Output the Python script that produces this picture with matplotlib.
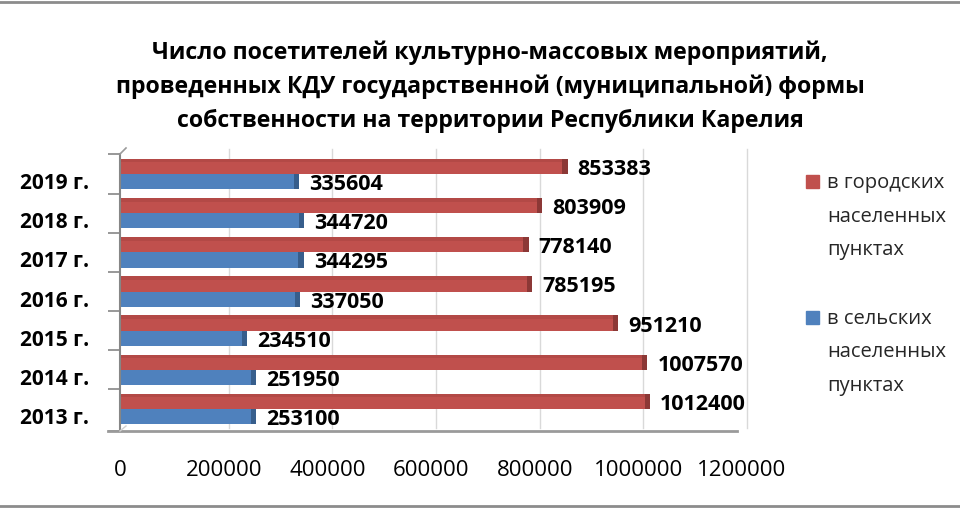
import matplotlib
matplotlib.use("Agg")
import matplotlib.pyplot as plt
import matplotlib.transforms as mtransforms
from matplotlib.patches import Rectangle
from matplotlib.lines import Line2D

plt.rcParams['font.family'] = ['Open Sans', 'DejaVu Sans']

years = ["2013 г.", "2014 г.", "2015 г.", "2016 г.", "2017 г.", "2018 г.", "2019 г."]
urban = [1012400, 1007570, 951210, 785195, 778140, 803909, 853383]
rural = [253100, 251950, 234510, 337050, 344295, 344720, 335604]
xticks = [0, 200000, 400000, 600000, 800000, 1000000, 1200000]
title_lines = ["Число посетителей культурно-массовых мероприятий,",
               "проведенных КДУ государственной (муниципальной) формы",
               "собственности на территории Республики Карелия"]
legend_labels = [["в городских", "населенных", "пунктах"],
                 ["в сельских", "населенных", "пунктах"]]

RED, RED_D = "#C0504D", "#8C3836"
BLUE, BLUE_D = "#4F81BD", "#375E8C"

W, H = 960, 510
fig = plt.figure(figsize=(W / 100, H / 100), dpi=100)

def fx(px): return px / W
def fy(py): return 1 - py / H

left, right, top, bottom = 120, 742, 155, 432
ax = fig.add_axes([fx(left), fy(bottom), fx(right) - fx(left), fy(top) - fy(bottom)])
ax.set_xlim(0, 1200000)
ax.set_ylim(-0.56, 6.51)
for s in ax.spines.values():
    s.set_visible(False)

# back wall gridlines (shifted for 3D look)
shift = mtransforms.ScaledTranslation(5 / 100, 3 / 100, fig.dpi_scale_trans)
for xv in xticks[1:]:
    ax.plot([xv, xv], [-0.56, 6.55], color="#D9D9D9", lw=1,
            transform=ax.transData + shift, zorder=0, clip_on=False)

pos = list(range(len(years)))
h = 0.39
ypos_u = [p + h / 2 for p in pos]
ypos_r = [p - h / 2 for p in pos]
ax.barh(ypos_u, urban, height=h, color=RED, zorder=3)
ax.barh(ypos_r, rural, height=h, color=BLUE, zorder=3)
# 3D top band and end caps
cap = 10000
ax.barh([y + h * 0.38 for y in ypos_u], urban, height=h * 0.24, color="#A94442", alpha=0.55, zorder=4)
ax.barh(ypos_u, [cap] * len(urban), left=urban, height=h, color=RED_D, zorder=4)
ax.barh(ypos_r, [cap] * len(rural), left=rural, height=h, color=BLUE_D, zorder=4)

off = mtransforms.ScaledTranslation(10 / 100, -2 / 100, fig.dpi_scale_trans)
for y, v in zip(ypos_u, urban):
    ax.text(v + cap, y, str(v), ha="left", va="center", fontsize=15.5, fontweight="bold",
            color="black", transform=ax.transData + off, zorder=5)
for y, v in zip(ypos_r, rural):
    ax.text(v + cap, y, str(v), ha="left", va="center", fontsize=15.5, fontweight="bold",
            color="black", transform=ax.transData + off, zorder=5)

ax.set_yticks(pos)
ax.set_yticklabels(years, fontsize=15, fontweight="bold")
ax.set_yticks([p + 0.5 for p in pos[:-1]] + [6.5, -0.56], minor=True)
ax.tick_params(axis="y", which="major", length=0, pad=22.5)
ax.tick_params(axis="y", which="minor", length=9, color="#868686", width=1.2)
loff = mtransforms.ScaledTranslation(0, -6 / 100, fig.dpi_scale_trans)
for lab in ax.get_yticklabels():
    lab.set_transform(lab.get_transform() + loff)

ax.set_xticks(xticks)
ax.set_xticklabels([str(x) for x in xticks], fontsize=16)
ax.tick_params(axis="x", length=0, pad=20)

# axis lines
ax.plot([0, 0], [-0.56, 6.51], color="#868686", lw=1.5, zorder=6, clip_on=False)
fig.add_artist(Line2D([fx(108), fx(737)], [fy(432), fy(432)], color="#9A9A9A", lw=2))
fig.add_artist(Line2D([fx(120), fx(126)], [fy(155), fy(149)], color="#9A9A9A", lw=1.2))
fig.add_artist(Line2D([fx(120), fx(126)], [fy(432), fy(427)], color="#D0D0D0", lw=1))

for ty, line in zip([53, 87, 121], title_lines):
    fig.text(fx(490), fy(ty), line, ha="center", va="center", fontsize=16.7,
             fontweight="bold")

# legend
for (ty, col, lines) in [(183, RED, legend_labels[0]), (319, BLUE, legend_labels[1])]:
    fig.add_artist(Rectangle((fx(806), fy(ty + 6)), fx(13), 13 / H, color=col))
    for k, ln in enumerate(lines):
        fig.text(fx(827), fy(ty + 33.5 * k), ln, ha="left", va="center", fontsize=14.5,
                 color="#262626")

# frame lines
fig.add_artist(Line2D([0, 1], [fy(2.5), fy(2.5)], color="#8C8C8C", lw=2))
fig.add_artist(Line2D([0, 1], [fy(506.5), fy(506.5)], color="#8C8C8C", lw=2))

fig.savefig("out.png", dpi=100)
